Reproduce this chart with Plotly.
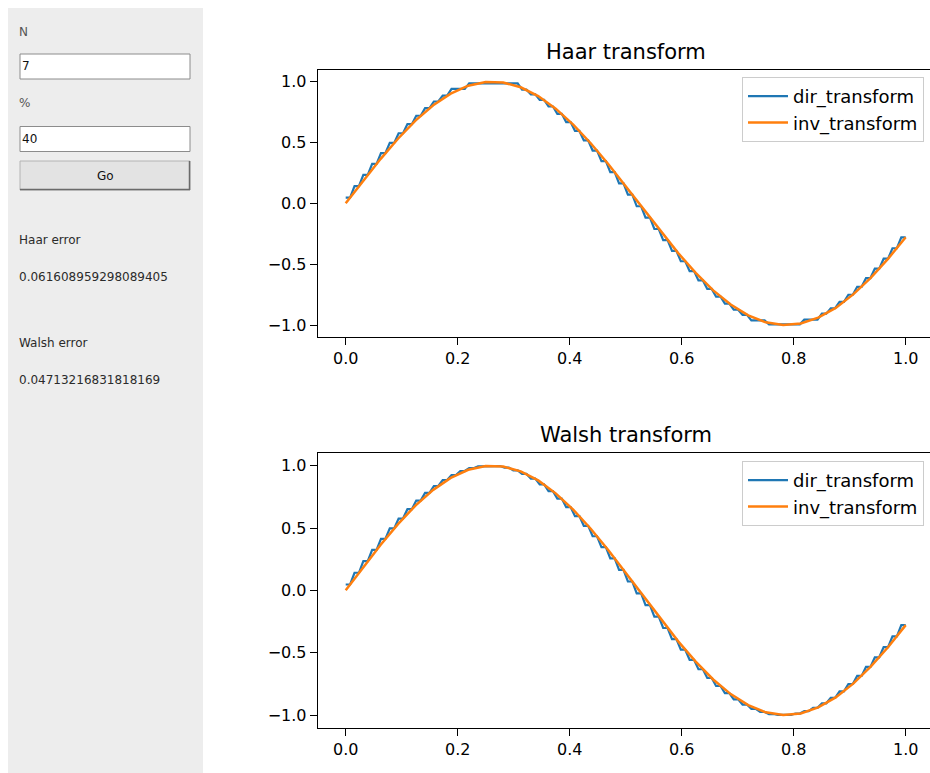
import numpy as np
import plotly.graph_objects as go

W, H = 930, 773

# ---------------- data ----------------
series_names = ["dir_transform", "inv_transform"]
titles = ["Haar transform", "Walsh transform"]

# step levels of the blue staircase (one level per pair of the 128 samples)
haar_levels = [
    0.047, 0.141, 0.234, 0.325, 0.413, 0.497, 0.576, 0.651, 0.720, 0.782,
    0.837, 0.885, 0.941, 0.941, 0.987, 0.987, 0.986, 0.986, 0.986, 0.986,
    0.934, 0.896, 0.850, 0.796, 0.736, 0.668, 0.595, 0.517, 0.434, 0.347,
    0.257, 0.164, 0.071, -0.024, -0.118, -0.211, -0.302, -0.391, -0.476, -0.557,
    -0.633, -0.703, -0.767, -0.824, -0.874, -0.916, -0.962, -0.962, -0.994, -0.994,
    -0.994, -0.994, -0.956, -0.956, -0.906, -0.862, -0.810, -0.751, -0.686, -0.614,
    -0.537, -0.455, -0.369, -0.279,
]
walsh_levels = [
    0.047, 0.141, 0.234, 0.325, 0.413, 0.497, 0.576, 0.651, 0.720, 0.782,
    0.837, 0.885, 0.925, 0.957, 0.980, 0.994, 1.000, 0.997, 0.984, 0.963,
    0.934, 0.896, 0.850, 0.796, 0.736, 0.668, 0.595, 0.517, 0.434, 0.347,
    0.257, 0.164, 0.071, -0.024, -0.118, -0.211, -0.302, -0.391, -0.476, -0.557,
    -0.633, -0.703, -0.767, -0.824, -0.874, -0.916, -0.950, -0.975, -0.992, -0.999,
    -0.998, -0.988, -0.969, -0.942, -0.906, -0.862, -0.810, -0.751, -0.686, -0.614,
    -0.537, -0.455, -0.369, -0.279,
]
# smooth orange curve, read every 1/32 along x
smooth_vals = [
    0.000, 0.186, 0.366, 0.533, 0.682, 0.806, 0.902, 0.967, 0.998, 0.993,
    0.954, 0.882, 0.778, 0.647, 0.494, 0.323, 0.141, -0.046, -0.231, -0.409,
    -0.572, -0.715, -0.832, -0.921, -0.978, -1.000, -0.987, -0.939, -0.859, -0.748,
    -0.612, -0.454, -0.279,
]

x_ticks = [0.0, 0.2, 0.4, 0.6, 0.8, 1.0]
x_tick_labels = ["0.0", "0.2", "0.4", "0.6", "0.8", "1.0"]
y_ticks = [-1.0, -0.5, 0.0, 0.5, 1.0]
y_tick_labels = ["\u22121.0", "\u22120.5", "0.0", "0.5", "1.0"]

gui_n_label = "N"
gui_n_value = "7"
gui_pct_label = "%"
gui_pct_value = "40"
gui_button = "Go"
haar_err_label = "Haar error"
haar_err_value = "0.061608959298089405"
walsh_err_label = "Walsh error"
walsh_err_value = "0.04713216831818169"

# ---------------- helpers ----------------
def px(x):
    return x / W

def py(y):
    return 1 - y / H

FONT = "DejaVu Sans"
BLUE = "#1f77b4"
ORANGE = "#ff7f0e"

n_samples = 2 * len(haar_levels)
x_step = np.linspace(0, 1, n_samples)
x_smooth = np.linspace(0, 1, len(smooth_vals))

fig = go.Figure()

for i, (levels, ax, leg) in enumerate([(haar_levels, "", "legend"), (walsh_levels, "2", "legend2")]):
    fig.add_trace(go.Scatter(
        x=x_step, y=np.repeat(levels, 2), mode="lines", name=series_names[0],
        line=dict(color=BLUE, width=2.2), xaxis="x" + ax, yaxis="y" + ax, legend=leg,
    ))
    fig.add_trace(go.Scatter(
        x=x_smooth, y=smooth_vals, mode="lines", name=series_names[1],
        line=dict(color=ORANGE, width=2.5), xaxis="x" + ax, yaxis="y" + ax, legend=leg,
    ))

axis_common = dict(
    showline=True, linecolor="black", linewidth=1,
    ticks="outside", ticklen=7, tickwidth=1, tickcolor="black",
    showgrid=False, zeroline=False,
    tickfont=dict(family=FONT, size=16, color="black"),
)

x_dom = [px(317.7), 1.0]
x_rng = [-0.05, 1.0434]
y1_dom = [py(337.2), py(69.5)]
y2_dom = [py(727.5), py(453.2)]

legend_common = dict(
    xanchor="right", yanchor="top",
    bgcolor="rgba(255,255,255,0.8)", bordercolor="#cccccc", borderwidth=1,
    font=dict(family=FONT, size=18, color="black"),
    itemwidth=40, tracegroupgap=0,
)

fig.update_layout(
    width=W, height=H,
    margin=dict(l=0, r=0, t=0, b=0),
    paper_bgcolor="white", plot_bgcolor="rgba(0,0,0,0)",
    showlegend=True,
    xaxis=dict(axis_common, domain=x_dom, range=x_rng, anchor="y", mirror=True,
               tickvals=x_ticks, ticktext=x_tick_labels),
    yaxis=dict(axis_common, domain=y1_dom, range=[-1.1, 1.1], anchor="x",
               tickvals=y_ticks, ticktext=y_tick_labels),
    xaxis2=dict(axis_common, domain=x_dom, range=x_rng, anchor="y2", mirror=True,
                tickvals=x_ticks, ticktext=x_tick_labels),
    yaxis2=dict(axis_common, domain=y2_dom, range=[-1.1, 1.1], anchor="x2",
                tickvals=y_ticks, ticktext=y_tick_labels),
    legend=dict(legend_common, x=px(924), y=py(77)),
    legend2=dict(legend_common, x=px(924), y=py(461)),
)

# ---------------- left GUI panel ----------------
shapes = [
    dict(type="rect", xref="paper", yref="paper", x0=px(8), x1=px(203), y0=0, y1=py(8),
         fillcolor="#ededed", line=dict(width=0), layer="below"),
    dict(type="rect", xref="paper", yref="paper", x0=px(20), x1=px(190), y0=py(79), y1=py(54),
         fillcolor="white", line=dict(color="#8c8c8c", width=1), layer="below"),
    dict(type="rect", xref="paper", yref="paper", x0=px(20), x1=px(190), y0=py(151.5), y1=py(126.5),
         fillcolor="white", line=dict(color="#8c8c8c", width=1), layer="below"),
    dict(type="rect", xref="paper", yref="paper", x0=px(20), x1=px(190), y0=py(190), y1=py(161),
         fillcolor="#e3e3e3", line=dict(color="#b4b4b4", width=1), layer="below"),
    dict(type="line", xref="paper", yref="paper", x0=px(189.5), x1=px(189.5), y0=py(190), y1=py(161),
         line=dict(color="#6a6a6a", width=1.5), layer="below"),
    dict(type="line", xref="paper", yref="paper", x0=px(20), x1=px(190), y0=py(189.5), y1=py(189.5),
         line=dict(color="#6a6a6a", width=1.5), layer="below"),
]

annotations = []

def gui_text(text, x, y, anchor="left", color="#2b2b2b", size=12):
    annotations.append(dict(
        text=text, x=px(x), y=py(y), xref="paper", yref="paper",
        xanchor=anchor, yanchor="middle", showarrow=False,
        font=dict(family=FONT, size=size, color=color), borderpad=0,
    ))

gui_text(gui_n_label, 18, 32, color="#555555")
gui_text(gui_n_value, 21, 66, color="#111111")
gui_text(gui_pct_label, 18, 103, color="#555555")
gui_text(gui_pct_value, 21, 139, color="#111111")
gui_text(gui_button, 105, 175.5, anchor="center", color="#111111")
gui_text(haar_err_label, 18, 240)
gui_text(haar_err_value, 18, 277)
gui_text(walsh_err_label, 18, 343)
gui_text(walsh_err_value, 18, 380)

# subplot titles
for t, yy in zip(titles, [52, 435]):
    annotations.append(dict(
        text=t, x=px(625.7), y=py(yy), xref="paper", yref="paper",
        xanchor="center", yanchor="middle", showarrow=False,
        font=dict(family=FONT, size=21, color="black"),
    ))

fig.update_layout(shapes=shapes, annotations=annotations)

fig.write_html(
    "out.html",
    config={"displayModeBar": False},
    post_script="document.body.style.margin='0';document.body.style.overflow='hidden';",
)
